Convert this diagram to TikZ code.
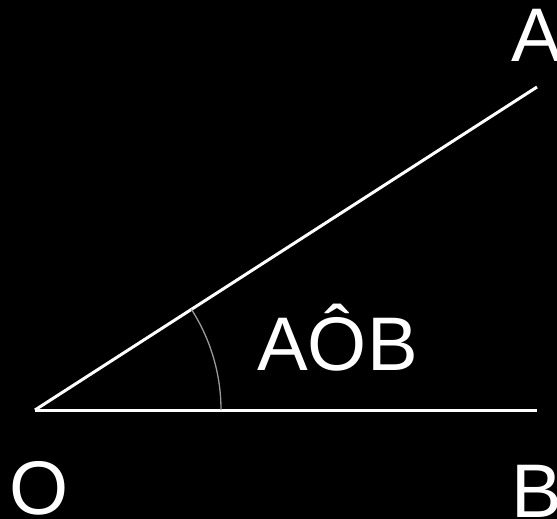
\documentclass[tikz,border=0pt]{standalone}
\usepackage{fontspec}
\setmainfont{Liberation Sans}
\begin{document}
\begin{tikzpicture}[x=1pt,y=-1pt,
  lbl/.style={text=white,inner sep=0pt,anchor=base west,font=\fontsize{76}{80}\selectfont},
  ray/.style={draw=white,line width=3pt}]
\fill[black] (0,0) rectangle (557,519);
\useasboundingbox (0,0) rectangle (557,519);
\coordinate (O) at (35,410);
\coordinate (A) at (537,87);
\coordinate (B) at (537,410);
\draw[ray] (O) -- (A);
\draw[ray] (O) -- (B);
\draw[draw=gray!80,line width=1.3pt] ([shift={(0:186)}]O) arc[start angle=0,end angle=-32.75,radius=186];
\node[lbl] (lA) at (511,62) {A};
\node[lbl] (lO) at (9,514) {O};
\node[lbl] (lB) at (511,517) {B};
\node[lbl] (lAOB) at (257,370) {AÔB};
\end{tikzpicture}
\end{document}
